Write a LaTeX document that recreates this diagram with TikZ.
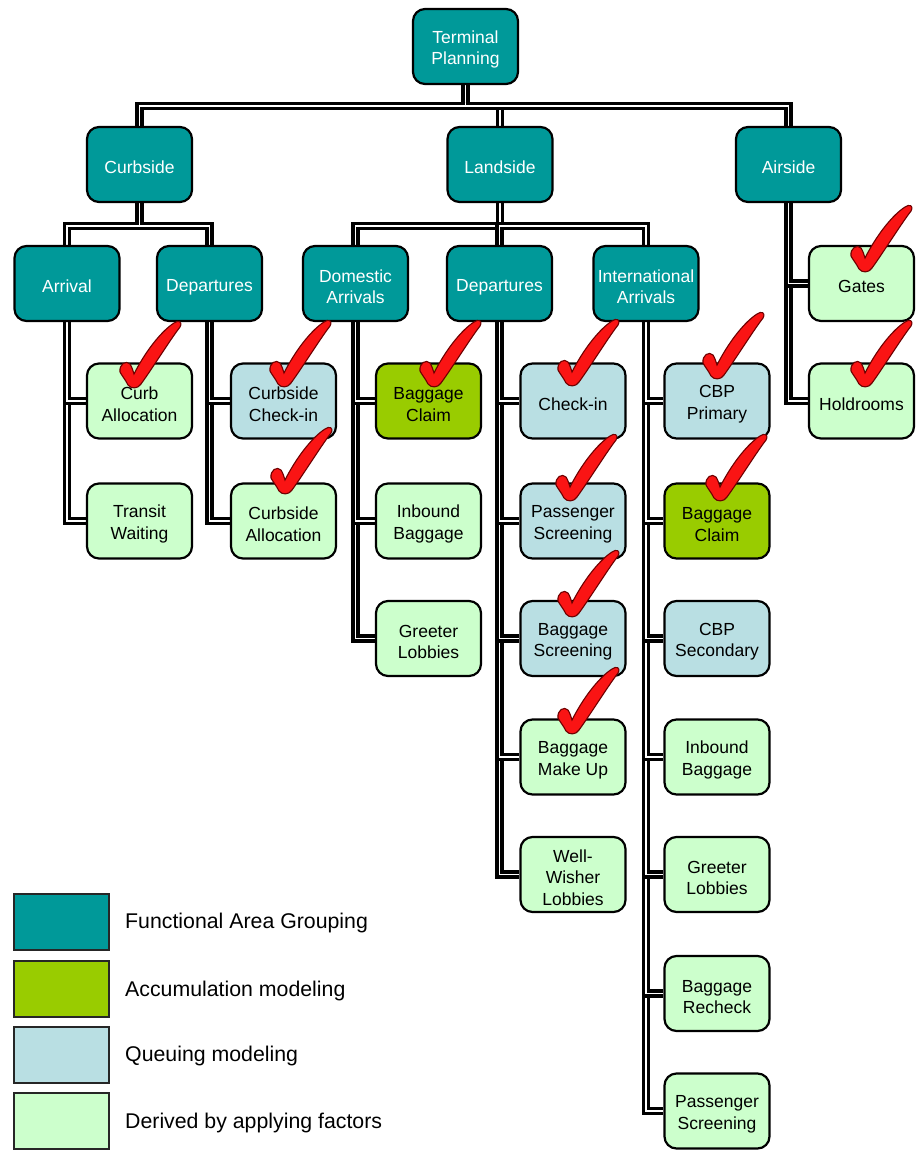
\documentclass[tikz,border=0pt]{standalone}
\usepackage{fontspec}
\setmainfont{Liberation Sans}
\usetikzlibrary{backgrounds}
\definecolor{cTeal}{RGB}{0,153,153}
\definecolor{cAcc}{RGB}{153,204,0}
\definecolor{cQue}{RGB}{185,223,227}
\definecolor{cDer}{RGB}{204,255,204}
\definecolor{cChk}{RGB}{250,20,20}
\definecolor{cChkD}{RGB}{110,0,0}
\newcommand\fst{\rule{0pt}{19pt}}
\tikzset{
  box/.style={draw=black, line width=2.2pt, rounded corners=12pt,
    minimum width=105pt, minimum height=75pt, align=center, inner sep=0pt,
    font=\fontsize{17.5}{21.5}\selectfont},
  grp/.style={box, fill=cTeal, text=white},
  acc/.style={box, fill=cAcc},
  que/.style={box, fill=cQue},
  der/.style={box, fill=cDer},
  conn/.style={preaction={draw=black, line width=8.6pt}, draw=white, line width=1.1pt},
  legbox/.style={draw=black!85, line width=2pt, minimum width=95pt, minimum height=56pt, inner sep=0pt},
  legtxt/.style={anchor=west, inner sep=0pt, font=\fontsize{21.3}{25}\selectfont},
  chk/.pic={
    \filldraw[fill=cChk, draw=cChkD, line width=1.1pt]
      (-12,-12) .. controls (-13,-20) and (-6,-24) .. (-2,-20)
      .. controls (0,-17) and (1,-13) .. (2,-10)
      .. controls (12,-30) and (28,-52) .. (42,-61)
      .. controls (46,-64) and (51,-63) .. (48,-57)
      .. controls (38,-44) and (22,-18) .. (9,0)
      .. controls (6,5) and (-1,5) .. (-4,1)
      .. controls (-7,-5) and (-10,-8) .. (-12,-12) -- cycle;
  }
}
\begin{document}
\begin{tikzpicture}[x=1pt,y=-1pt]
\useasboundingbox (0,0) rectangle (917,1150);
\coordinate (b1) at (0,106);
\coordinate (b2) at (0,226);

% level 0-1
\node[grp] (tp) at (465.5,46.5) {\fst Terminal\\Planning};
\node[grp] (curbside) at (139.5,164.5) {\fst Curbside};
\node[grp] (landside) at (500,164.5) {\fst Landside};
\node[grp] (airside) at (788.5,164.5) {\fst Airside};
% level 2
\node[grp] (arrival) at (67,283.5) {\fst Arrival};
\node[grp] (depc) at (209.5,283.5) {\fst Departures};
\node[grp] (domarr) at (355.5,283.5) {\fst Domestic\\Arrivals};
\node[grp] (depl) at (499.5,283.5) {\fst Departures};
\node[grp] (intarr) at (646,283.5) {\fst International\\Arrivals};
\node[der] (gates) at (861.5,283.5) {\fst Gates};
\node[der] (holdrooms) at (861.5,401) {\fst Holdrooms};
% curbside leaves
\node[der] (curballoc) at (139.5,401) {\fst Curb\\Allocation};
\node[der] (transit) at (139.5,521) {\fst Transit\\Waiting};
\node[que] (curbchk) at (283.5,401) {\fst Curbside\\Check-in};
\node[der] (curbsalloc) at (283.5,521) {\fst Curbside\\Allocation};
% domestic arrivals
\node[acc] (bagclaim) at (428.5,401) {\fst Baggage\\Claim};
\node[der] (inbound) at (428.5,521) {\fst Inbound\\Baggage};
\node[der] (greeter) at (428.5,638.5) {\fst Greeter\\Lobbies};
% landside departures
\node[que] (checkin) at (573,401) {\fst Check-in};
\node[que] (passcr) at (573,521) {\fst Passenger\\Screening};
\node[que] (bagscr) at (573,638.5) {\fst Baggage\\Screening};
\node[der] (makeup) at (573,757) {\fst Baggage\\Make Up};
\node[der] (wellwisher) at (573,874.5) {\fst Well-\\Wisher\\Lobbies};
% international arrivals
\node[que] (cbpprim) at (717,401) {\fst CBP\\Primary};
\node[acc] (bagclaim2) at (717,521) {\fst Baggage\\Claim};
\node[que] (cbpsec) at (717,638.5) {\fst CBP\\Secondary};
\node[der] (inbound2) at (717,757) {\fst Inbound\\Baggage};
\node[der] (greeter2) at (717,874.5) {\fst Greeter\\Lobbies};
\node[der] (recheck) at (717,993.5) {\fst Baggage\\Recheck};
\node[der] (passcr2) at (717,1111) {\fst Passenger\\Screening};

% connectors
\begin{scope}[on background layer]
\fill[white] (0,0) rectangle (917,1150);
\draw[conn] (tp.south) -- (tp.south |- b1) -| (curbside.north);
\draw[conn] (tp.south |- b1) -| (landside.north);
\draw[conn] (tp.south |- b1) -| (airside.north);
\draw[conn] (curbside.south) -- (curbside.south |- b2) -| (arrival.north);
\draw[conn] (curbside.south |- b2) -| (depc.north);
\draw[conn] (landside.south) -- (landside.south |- b2) -| (domarr.north);
\draw[conn] (landside.south |- b2) -| (depl.north);
\draw[conn] (landside.south |- b2) -| (intarr.north);
\draw[conn] (airside.south) |- (holdrooms.west);
\draw[conn] (airside.south) |- (gates.west);
\draw[conn] (arrival.south) |- (transit.west);
\draw[conn] (arrival.south) |- (curballoc.west);
\draw[conn] (depc.south) |- (curbsalloc.west);
\draw[conn] (depc.south) |- (curbchk.west);
\draw[conn] (domarr.south) |- (greeter.west);
\draw[conn] (domarr.south) |- (inbound.west);
\draw[conn] (domarr.south) |- (bagclaim.west);
\draw[conn] (depl.south) |- (wellwisher.west);
\draw[conn] (depl.south) |- (makeup.west);
\draw[conn] (depl.south) |- (bagscr.west);
\draw[conn] (depl.south) |- (passcr.west);
\draw[conn] (depl.south) |- (checkin.west);
\draw[conn] (intarr.south) |- (passcr2.west);
\draw[conn] (intarr.south) |- (recheck.west);
\draw[conn] (intarr.south) |- (greeter2.west);
\draw[conn] (intarr.south) |- (inbound2.west);
\draw[conn] (intarr.south) |- (cbpsec.west);
\draw[conn] (intarr.south) |- (bagclaim2.west);
\draw[conn] (intarr.south) |- (cbpprim.west);
\end{scope}

% check marks
\pic at ([shift={(-7.5,-17)}]curballoc.center) {chk};
\pic at ([shift={(-1.5,-18)}]curbchk.center) {chk};
\pic at ([shift={(-0.5,-31)}]curbsalloc.center) {chk};
\pic at ([shift={(3.5,-18)}]bagclaim.center) {chk};
\pic at ([shift={(-3,-19)}]checkin.center) {chk};
\pic at ([shift={(-5,-24)}]passcr.center) {chk};
\pic at ([shift={(-3,-25.5)}]bagscr.center) {chk};
\pic at ([shift={(-3,-27)}]makeup.center) {chk};
\pic at ([shift={(-2,-26)}]cbpprim.center) {chk};
\pic at ([shift={(1,-24)}]bagclaim2.center) {chk};
\pic at ([shift={(1.5,-15.5)}]gates.center) {chk};
\pic at ([shift={(1.5,-18)}]holdrooms.center) {chk};

% legend
\node[legbox, fill=cTeal] (l1) at (61.5,922) {};
\node[legbox, fill=cAcc] (l2) at (61.5,989) {};
\node[legbox, fill=cQue] (l3) at (61.5,1055) {};
\node[legbox, fill=cDer] (l4) at (61.5,1121) {};
\node[legtxt] (t1) at (125,923) {Functional Area Grouping};
\node[legtxt] (t2) at (125,991) {Accumulation modeling};
\node[legtxt] (t3) at (125,1056) {Queuing modeling};
\node[legtxt] (t4) at (125,1123) {Derived by applying factors};
\end{tikzpicture}
\end{document}
